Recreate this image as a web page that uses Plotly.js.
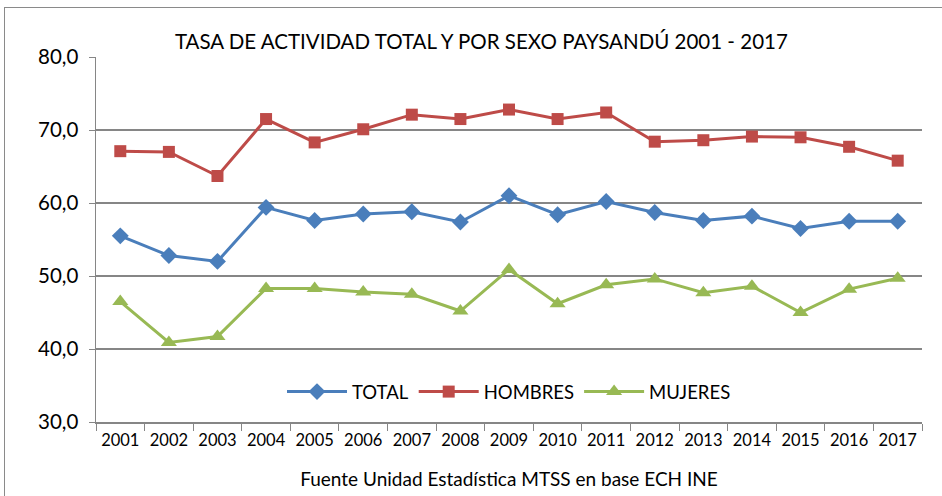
<!DOCTYPE html>
<html>
<head>
<meta charset="utf-8">
<script src="https://cdn.plot.ly/plotly-3.0.1.min.js"></script>
<style>
html,body{margin:0;padding:0;background:#fff;overflow:hidden;}
#frame{position:absolute;left:4px;top:7px;width:1000px;height:600px;border:1px solid #8a8a8a;box-sizing:border-box;pointer-events:none;z-index:5;}
#chart{position:absolute;left:0;top:0;width:942px;height:496px;}
</style>
</head>
<body>
<div id="chart"></div>
<div id="frame"></div>
<script>
const years = ['2001','2002','2003','2004','2005','2006','2007','2008','2009','2010','2011','2012','2013','2014','2015','2016','2017'];
const total   = [55.5, 52.8, 52.0, 59.4, 57.6, 58.5, 58.8, 57.4, 61.0, 58.4, 60.2, 58.7, 57.6, 58.2, 56.5, 57.5, 57.5];
const hombres = [67.1, 67.0, 63.7, 71.5, 68.3, 70.1, 72.1, 71.5, 72.8, 71.5, 72.4, 68.4, 68.6, 69.1, 69.0, 67.7, 65.8];
const mujeres = [46.5, 40.9, 41.7, 48.3, 48.3, 47.8, 47.5, 45.2, 50.9, 46.2, 48.8, 49.6, 47.7, 48.6, 45.0, 48.2, 49.7];

const FONT = 'Lato, "Open Sans", sans-serif';
const traces = [
  {x: years, y: total, name: 'TOTAL', type: 'scatter', mode: 'lines+markers',
   line: {color: '#4A7EBB', width: 3}, marker: {symbol: 'diamond', size: 13, color: '#4A7EBB'}},
  {x: years, y: hombres, name: 'HOMBRES', type: 'scatter', mode: 'lines+markers',
   line: {color: '#BE4B48', width: 3}, marker: {symbol: 'square', size: 12, color: '#BE4B48'}},
  {x: years, y: mujeres, name: 'MUJERES', type: 'scatter', mode: 'lines+markers',
   line: {color: '#98B954', width: 3}, marker: {symbol: 'triangle-up', size: 14, color: '#98B954'}}
];

const layout = {
  width: 942, height: 496,
  margin: {l: 96, r: 20, t: 57, b: 74},
  paper_bgcolor: '#ffffff', plot_bgcolor: '#ffffff',
  separators: ',.',
  font: {family: FONT, color: '#000000'},
  showlegend: true,
  title: {text: 'TASA DE ACTIVIDAD TOTAL Y POR SEXO PAYSANDÚ 2001 - 2017',
          font: {family: FONT, size: 20.5, color: '#000'},
          x: 0.511, xref: 'container', xanchor: 'center',
          y: 1 - 42/496, yref: 'container', yanchor: 'middle'},
  xaxis: {type: 'category', tickson: 'boundaries', ticks: 'outside', ticklen: 7,
          tickcolor: '#868686', showline: true, linecolor: '#868686', linewidth: 1.5,
          showgrid: false, tickfont: {size: 16.5, family: FONT, color: '#000'},
          tickangle: 0, ticklabelstandoff: 3,
          title: {text: 'Fuente Unidad Estadística MTSS en base ECH INE', standoff: 23,
                  font: {size: 19, family: FONT, color: '#000'}},
          range: [-0.5, 16.5], fixedrange: true, automargin: false},
  yaxis: {range: [30, 80], dtick: 10, tickformat: '.1f', ticks: 'outside', ticklen: 6,
          tickcolor: '#868686', showline: true, linecolor: '#868686', linewidth: 1.5,
          showgrid: true, gridcolor: '#868686', gridwidth: 1.5, zeroline: false,
          ticklabelstandoff: 6,
          tickfont: {size: 20.5, family: FONT, color: '#000'}, fixedrange: true, automargin: false},
  legend: {orientation: 'h', x: 0.5, xanchor: 'center', y: 0.082, yanchor: 'middle',
           font: {size: 18.5, family: FONT, color: '#000'}, bgcolor: 'rgba(255,255,255,0)',
           itemwidth: 60}
};
Plotly.newPlot('chart', traces, layout, {displayModeBar: false, staticPlot: true});
</script>
</body>
</html>
